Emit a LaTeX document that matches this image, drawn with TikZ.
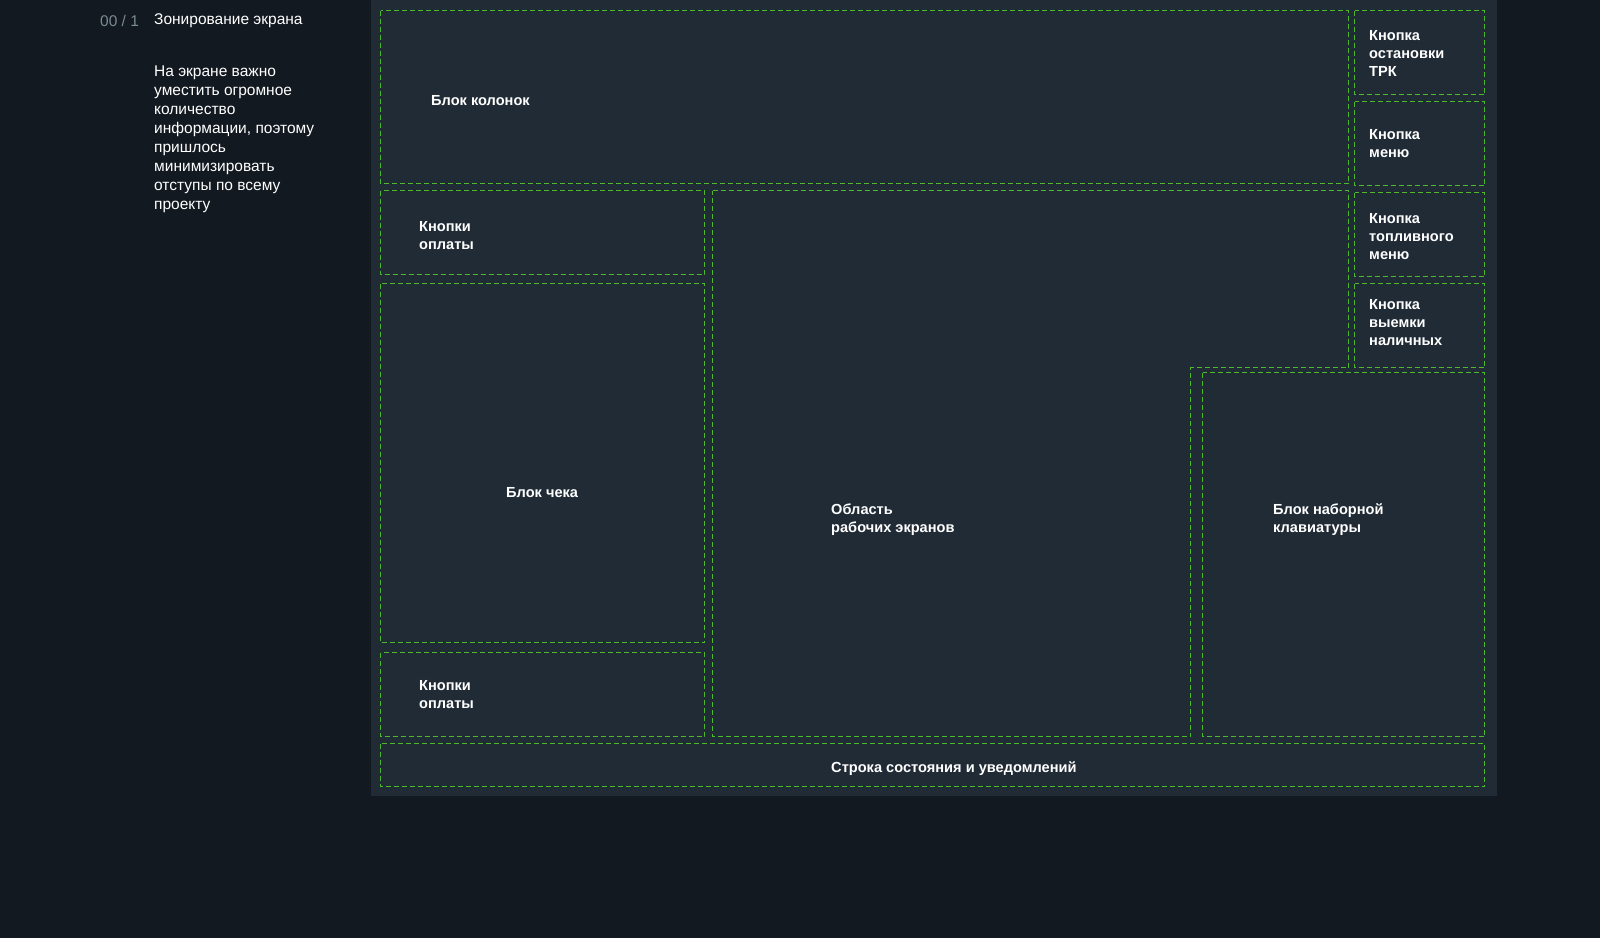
\documentclass[tikz,border=0pt]{standalone}
\usepackage{fontspec}
\setmainfont{Liberation Sans}
\usepackage{xcolor}
\usepackage{tikz}
\usetikzlibrary{positioning}

\definecolor{bgdark}{HTML}{121920}
\definecolor{panelbg}{HTML}{202B36}
\definecolor{zonegreen}{HTML}{4DB82B}
\definecolor{numgray}{HTML}{7B8A94}

\begin{document}
\begin{tikzpicture}[
    x=1pt, y=-1pt,
    zone/.style={draw=zonegreen, line width=1.1pt, dash pattern=on 5pt off 3pt, shift={(0.5,0.5)}},
    zonelabel/.style={anchor=west, align=left, inner sep=0pt, text=white, font=\fontsize{14.6}{18}\selectfont\bfseries},
    note/.style={anchor=west, align=left, inner sep=0pt, text=white, font=\fontsize{15.5}{19}\selectfont},
]

% Background and panel
\fill[bgdark] (0,0) rectangle (1600,938);
\useasboundingbox (0,0) rectangle (1600,938);
\fill[panelbg] (371,0) rectangle (1497,796);

% Side notes
\node[note, text=numgray] (num) at (100,20.5) {00 / 1};
\node[note] (title) at (154,21) {Зонирование экрана};
\node[note, anchor=north west] (descr) at (154,66) {На экране важно\\уместить огромное\\количество\\информации, поэтому\\пришлось\\минимизировать\\отступы по всему\\проекту};

% Zones
\draw[zone] (380,10) rectangle (1348,183);
\draw[zone] (380,190) rectangle (704,274);
\draw[zone] (380,283) rectangle (704,642);
\draw[zone] (380,652) rectangle (704,736);
\draw[zone] (712,190) -- (1348,190) -- (1348,367) -- (1190,367) -- (1190,736) -- (712,736) -- cycle;
\draw[zone] (1202,372) rectangle (1484,736);
\draw[zone] (1354,10) rectangle (1484,94);
\draw[zone] (1354,101) rectangle (1484,185);
\draw[zone] (1354,192) rectangle (1484,276);
\draw[zone] (1354,283) rectangle (1484,367);
\draw[zone] (380,743) rectangle (1484,786);

% Zone labels
\node[zonelabel] (kolonki) at (431,101) {Блок колонок};
\node[zonelabel] (oplata1) at (419,236) {Кнопки\\оплаты};
\node[zonelabel] (chek) at (506,493) {Блок чека};
\node[zonelabel] (oplata2) at (419,695) {Кнопки\\оплаты};
\node[zonelabel] (rabochie) at (831,520) {Область\\рабочих экранов};
\node[zonelabel] (klava) at (1273,520) {Блок наборной\\клавиатуры};
\node[zonelabel] (stop) at (1369,53) {Кнопка\\остановки\\ТРК};
\node[zonelabel] (menu) at (1369,144) {Кнопка\\меню};
\node[zonelabel] (toplivo) at (1369,237) {Кнопка\\топливного\\меню};
\node[zonelabel] (nalichnye) at (1369,323) {Кнопка\\выемки\\наличных};
\node[zonelabel] (status) at (831,769) {Строка состояния и уведомлений};

\end{tikzpicture}
\end{document}
